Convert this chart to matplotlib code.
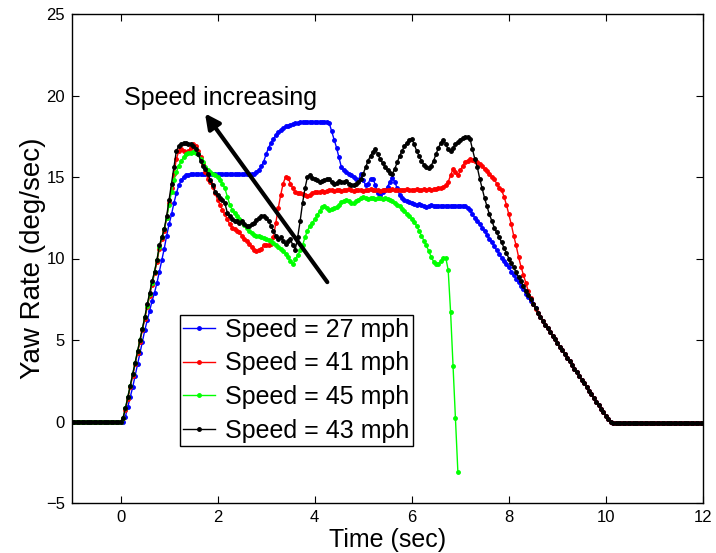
import numpy as np
import matplotlib.pyplot as plt

plt.rcParams['font.family'] = ['Liberation Sans', 'DejaVu Sans']

# sampling: 20 Hz starting at t = -1 s
t0 = -1.0
dt = 0.05

# all runs sit at zero before the steer input
lead = [0.0, 0.0, 0.0, 0.0, 0.0, 0.0, 0.0, 0.0, 0.0, 0.0,
        0.0, 0.0, 0.0, 0.0, 0.0, 0.0, 0.0, 0.0, 0.0, 0.0]

# common unwind from t = 8.65 s to 12 s (27, 41 and 43 mph runs overlap here)
tail = [6.40, 6.17, 5.95, 5.72, 5.50, 5.27, 5.05,
        4.82, 4.60, 4.37, 4.15, 3.92, 3.70, 3.47, 3.25, 3.02, 2.80,
        2.57, 2.35, 2.12, 1.90, 1.67, 1.45, 1.22, 1.00, 0.78, 0.56,
        0.34, 0.14, 0.0, -0.08, -0.1, -0.1, -0.12, -0.1, -0.09, -0.1,
        -0.1, -0.11, -0.1, -0.1, -0.09, -0.1, -0.1, -0.11, -0.1, -0.1,
        -0.1, -0.1, -0.09, -0.1, -0.1, -0.11, -0.1, -0.1, -0.1, -0.1,
        -0.1, -0.1, -0.11, -0.1, -0.1, -0.09, -0.1, -0.1, -0.1, -0.1,
        -0.1]

# 27 mph, t = 0 .. 8.6 s
yaw_27 = [0.0, 0.0, 0.3, 0.9, 1.5, 2.1, 2.8, 3.5, 4.2, 4.9,
          5.6, 6.2, 6.8, 7.4, 7.9, 8.5, 9.2, 9.9, 10.6, 11.4,
          12.1, 12.7, 13.4, 14.0, 14.5, 14.8, 15.0, 15.1, 15.15, 15.2,
          15.2, 15.2, 15.2, 15.2, 15.2, 15.2, 15.2, 15.2, 15.2, 15.2,
          15.2, 15.2, 15.2, 15.2, 15.2, 15.2, 15.2, 15.2, 15.2, 15.2,
          15.2, 15.2, 15.2, 15.2, 15.2, 15.2, 15.3, 15.45, 15.65, 15.95,
          16.4, 16.8, 17.1, 17.35, 17.55, 17.75, 17.9, 18.0, 18.1, 18.15,
          18.2, 18.25, 18.3, 18.3, 18.35, 18.35, 18.4, 18.4, 18.4, 18.4,
          18.4, 18.4, 18.4, 18.4, 18.4, 18.4, 18.3, 17.8, 17.3, 16.8,
          16.2, 15.6, 15.4, 15.3, 15.2, 15.1, 15.0, 14.85, 14.8, 15.2,
          14.8, 14.5, 14.6, 14.9, 14.9, 14.5, 14.0, 13.9, 14.1, 14.2,
          14.4, 14.7, 14.95, 14.7, 14.3, 13.9, 13.7, 13.6, 13.5, 13.45,
          13.4, 13.35, 13.3, 13.35, 13.3, 13.2, 13.15, 13.2, 13.3, 13.25,
          13.2, 13.25, 13.25, 13.25, 13.25, 13.25, 13.25, 13.25, 13.25, 13.25,
          13.25, 13.25, 13.25, 13.1, 12.95, 12.7, 12.5, 12.3, 12.1, 11.9,
          11.7, 11.45, 11.2, 11.0, 10.75, 10.5, 10.3, 10.05, 9.85, 9.65,
          9.45, 9.2, 9.0, 8.75, 8.55, 8.3, 8.1, 7.85, 7.65, 7.4,
          7.2, 6.95, 6.65]

# 41 mph, t = 0 .. 8.6 s
yaw_41 = [0.0, 0.2, 0.7, 1.4, 2.1, 2.8, 3.5, 4.2, 4.9, 5.6,
          6.3, 7.0, 7.7, 8.4, 9.1, 9.8, 10.6, 11.2, 11.7, 12.5,
          13.4, 14.3, 15.2, 16.1, 16.6, 16.7, 16.6, 16.5, 16.6, 16.8,
          17.0, 16.9, 16.6, 16.2, 15.8, 15.3, 14.9, 14.7, 14.4, 14.0,
          13.6, 13.3, 13.0, 12.7, 12.4, 12.1, 11.9, 11.8, 11.7, 11.6,
          11.4, 11.2, 11.1, 10.9, 10.7, 10.5, 10.45, 10.5, 10.6, 10.8,
          10.85, 10.8, 10.9, 11.3, 12.2, 13.1, 13.9, 14.6, 15.0, 14.95,
          14.6, 14.3, 14.1, 14.0, 14.0, 13.95, 13.9, 13.85, 13.9, 14.0,
          14.1, 14.1, 14.1, 14.15, 14.1, 14.15, 14.2, 14.2, 14.15, 14.2,
          14.2, 14.15, 14.2, 14.2, 14.25, 14.2, 14.15, 14.2, 14.2, 14.2,
          14.15, 14.2, 14.2, 14.25, 14.2, 14.2, 14.2, 14.15, 14.2, 14.2,
          14.2, 14.2, 14.25, 14.2, 14.2, 14.2, 14.2, 14.2, 14.25, 14.2,
          14.2, 14.2, 14.25, 14.2, 14.2, 14.25, 14.2, 14.25, 14.2, 14.25,
          14.25, 14.3, 14.35, 14.4, 14.5, 14.7, 15.1, 15.5, 15.3, 15.1,
          15.4, 15.7, 15.9, 16.0, 16.1, 16.05, 16.0, 15.9, 15.8, 15.65,
          15.5, 15.35, 15.2, 15.0, 14.85, 14.6, 14.35, 14.2, 13.8, 13.3,
          12.7, 12.1, 11.4, 10.8, 10.1, 9.5, 9.0, 8.5, 8.0, 7.6,
          7.2, 6.9, 6.65]

# 45 mph, t = 0 .. 6.95 s (run ends early)
yaw_45 = [0.0, 0.2, 0.8, 1.5, 2.2, 2.9, 3.6, 4.3, 5.0, 5.7,
          6.4, 7.1, 7.8, 8.5, 9.2, 9.9, 10.7, 11.3, 11.8, 12.5,
          13.3, 14.1, 14.8, 15.3, 15.7, 16.0, 16.2, 16.4, 16.5, 16.5,
          16.55, 16.5, 16.4, 16.1, 15.9, 15.6, 15.4, 15.3, 15.2, 15.1,
          15.0, 14.8, 14.6, 14.3, 13.8, 13.3, 13.0, 12.8, 12.6, 12.4,
          12.25, 12.05, 11.85, 11.7, 11.55, 11.45, 11.4, 11.35, 11.3, 11.25,
          11.2, 11.15, 11.1, 10.95, 10.8, 10.7, 10.6, 10.45, 10.3, 10.1,
          9.85, 9.65, 9.95, 10.2, 10.5, 10.8, 11.3, 11.7, 12.0, 12.2,
          12.4, 12.65, 12.9, 13.15, 13.2, 13.1, 13.0, 13.05, 13.1, 13.15,
          13.3, 13.45, 13.55, 13.6, 13.5, 13.4, 13.4, 13.5, 13.6, 13.7,
          13.75, 13.7, 13.65, 13.7, 13.7, 13.65, 13.7, 13.7, 13.65, 13.7,
          13.65, 13.6, 13.5, 13.4, 13.3, 13.2, 13.05, 12.9, 12.75, 12.6,
          12.45, 12.25, 12.0, 11.7, 11.4, 11.1, 10.8, 10.45, 10.1, 9.8,
          9.65, 9.65, 9.85, 10.05, 10.05, 9.3, 6.7, 3.4, 0.2, -3.1]

# 43 mph, t = 0 .. 8.6 s
yaw_43 = [0.0, 0.2, 0.8, 1.5, 2.2, 2.9, 3.6, 4.3, 5.0, 5.7,
          6.4, 7.2, 7.9, 8.6, 9.2, 9.9, 10.8, 11.3, 11.8, 12.6,
          13.6, 14.6, 15.6, 16.6, 16.9, 17.0, 17.1, 17.1, 17.0, 17.05,
          16.9, 16.7, 16.4, 16.0, 15.7, 15.5, 15.2, 14.8, 14.5, 14.1,
          13.9, 13.7, 13.6, 13.4, 12.8, 12.6, 12.4, 12.3, 12.3, 12.2,
          12.3, 12.1, 12.0, 12.0, 12.1, 12.2, 12.35, 12.5, 12.6, 12.6,
          12.5, 12.3, 12.0, 11.7, 11.4, 11.2, 11.3, 11.05, 10.9, 11.1,
          11.2, 10.8, 10.55, 11.3, 12.3, 13.4, 14.3, 15.0, 15.1, 14.95,
          14.9, 14.8, 14.7, 14.75, 14.8, 14.9, 14.85, 14.7, 14.6, 14.65,
          14.75, 14.7, 14.7, 14.75, 14.6, 14.5, 14.5, 14.6, 14.7, 14.9,
          15.2, 15.6, 16.0, 16.3, 16.55, 16.7, 16.4, 16.1, 15.85, 15.6,
          15.4, 15.25, 15.2, 15.5, 15.9, 16.3, 16.6, 16.9, 17.1, 17.3,
          17.35, 17.0, 16.6, 16.3, 16.0, 15.75, 15.6, 15.55, 15.7, 16.0,
          16.4, 16.8, 17.1, 17.3, 17.0, 16.7, 16.6, 16.8, 17.0, 17.15,
          17.3, 17.4, 17.45, 17.45, 17.35, 16.7, 16.1, 15.6, 14.9, 14.3,
          13.7, 13.2, 12.7, 12.3, 11.9, 11.6, 11.3, 11.0, 10.65, 10.35,
          10.0, 9.7, 9.45, 9.15, 8.85, 8.6, 8.3, 8.0, 7.75, 7.5,
          7.2, 6.95, 6.65]

runs = [
    ('Speed = 27 mph', lead + yaw_27 + tail, 'b'),
    ('Speed = 41 mph', lead + yaw_41 + tail, 'r'),
    ('Speed = 45 mph', lead + yaw_45, (0, 1, 0)),
    ('Speed = 43 mph', lead + yaw_43 + tail, 'k'),
]

fig = plt.figure(figsize=(7.16, 5.53), dpi=100)
ax = fig.add_axes([72 / 716, 50 / 553, 631 / 716, 489 / 553])

for label, y, color in runs:
    y = np.array(y)
    t = t0 + dt * np.arange(len(y))
    ax.plot(t, y, '.-', color=color, lw=1.0, ms=5, label=label)

ax.set_xlim(-1, 12)
ax.set_ylim(-5, 25)
ax.set_xticks([0, 2, 4, 6, 8, 10, 12])
ax.set_yticks([-5, 0, 5, 10, 15, 20, 25])
ax.tick_params(direction='in', top=True, right=True, length=5, width=0.8,
               labelsize=12, pad=5)
for s in ax.spines.values():
    s.set_linewidth(1.0)

ax.set_xlabel('Time (sec)', fontsize=18, labelpad=2)
ax.set_ylabel('Yaw Rate (deg/sec)', fontsize=20, labelpad=0)

# arrow pointing toward higher speeds
ax.annotate('', xy=(1.74, 18.9), xytext=(4.26, 8.55),
            arrowprops=dict(arrowstyle='-|>', lw=3, color='k',
                            mutation_scale=22, shrinkA=0, shrinkB=0))
ax.text(0.07, 19.85, 'Speed increasing', fontsize=18, ha='left', va='center')

leg = ax.legend(loc='lower left', bbox_to_anchor=(0.171, 0.117),
                borderaxespad=0, fontsize=18, fancybox=False, framealpha=1,
                edgecolor='k', handlelength=1.3, handletextpad=0.4,
                borderpad=0.12, labelspacing=0.39, numpoints=1)
leg.get_frame().set_linewidth(1.0)

fig.savefig('out.png', dpi=100)
